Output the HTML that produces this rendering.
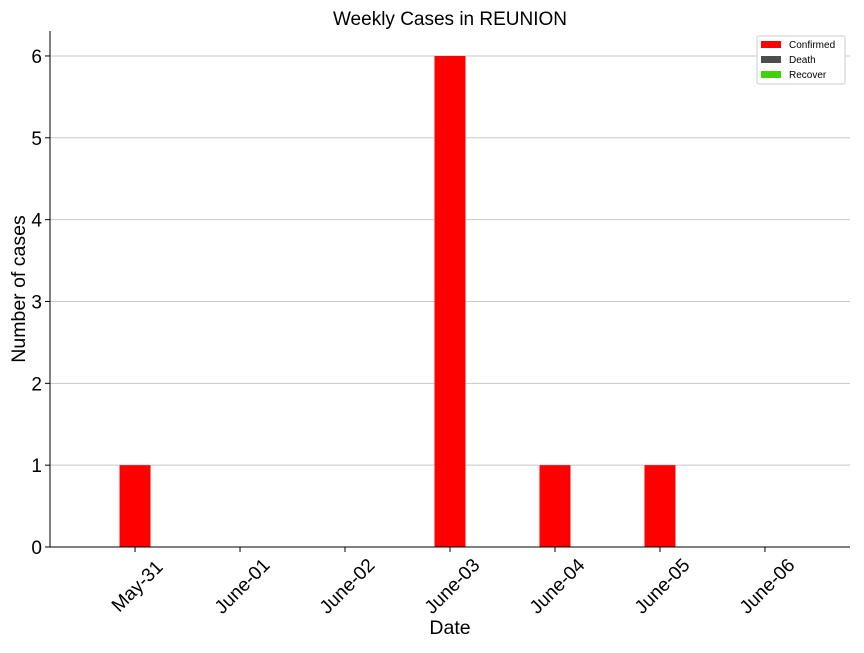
<!DOCTYPE html>
<html><head><meta charset="utf-8"><style>
body{margin:0;background:#fff}
svg{font-family:"Liberation Sans","DejaVu Sans",sans-serif}
</style></head><body>
<svg id="c" width="864" height="648" xmlns="http://www.w3.org/2000/svg">
<text x="450" y="25" font-size="19" text-anchor="middle">Weekly Cases in REUNION</text>
<g id="grid"></g><g id="bars"></g><g id="axes"></g>
<text x="450" y="634" font-size="19.5" text-anchor="middle">Date</text>
<text transform="translate(25,289) rotate(-90)" font-size="19.5" text-anchor="middle">Number of cases</text>
<g>
<rect x="757" y="36" width="88" height="48" rx="2" fill="#fff" stroke="#ccc"/>
<rect x="761" y="41" width="20" height="7" fill="#ff0000"/>
<text x="789" y="48" font-size="10">Confirmed</text>
<rect x="761" y="56" width="20" height="7" fill="#4d4d4d"/>
<text x="789" y="63" font-size="10">Death</text>
<rect x="761" y="71" width="20" height="7" fill="#3fd20a"/>
<text x="789" y="78" font-size="10">Recover</text>
</g>
</svg>
<script>
const categories=["May-31","June-01","June-02","June-03","June-04","June-05","June-06"];
const confirmed=[1,0,0,6,1,1,0];
const deaths=[0,0,0,0,0,0,0];
const recovered=[0,0,0,0,0,0,0];
const yTicks=[0,1,2,3,4,5,6];
const NS="http://www.w3.org/2000/svg";
const L=50,R=850,T=31,B=547;
const xMin=-0.81,xMax=6.81,yMax=6.305;
const x=i=>L+(i-xMin)/(xMax-xMin)*(R-L);
const y=v=>B-v/yMax*(B-T);
function mk(t,a,p){const e=document.createElementNS(NS,t);for(const k in a)e.setAttribute(k,a[k]);p.appendChild(e);return e;}
const grid=document.getElementById('grid'),bars=document.getElementById('bars'),axes=document.getElementById('axes');
yTicks.forEach(v=>{
 const g=mk('line',{x1:L,x2:R,y1:y(v),y2:y(v),stroke:'#c8c8c8','stroke-width':1},grid);
 
 
 mk('line',{x1:L-5,x2:L,y1:y(v),y2:y(v),stroke:'#000'},axes);
 const t=mk('text',{x:L-8,y:y(v)+7,'font-size':19,'text-anchor':'end'},axes);t.textContent=v;
 
 
});
const bw=31;
categories.forEach((c,i)=>{
 const cx=x(i);
 const b=mk('rect',{x:cx-bw/2,y:y(confirmed[i]),width:bw,height:B-y(confirmed[i]),fill:'#ff0000'},bars);
 
 
 const d=mk('rect',{x:cx+bw/2,y:y(deaths[i]),width:bw,height:B-y(deaths[i]),fill:'#4d4d4d'},bars);
 
 
 const r=mk('rect',{x:cx+bw*1.5,y:y(recovered[i]),width:bw,height:B-y(recovered[i]),fill:'#3fd20a'},bars);
 
 
 mk('line',{x1:cx,x2:cx,y1:B,y2:B+5,stroke:'#000'},axes);
 const t=mk('text',{transform:`translate(${cx+3},${B+40}) rotate(-45)`,'font-size':19,'text-anchor':'middle','dominant-baseline':'middle'},axes);t.textContent=c;
 
 
});
const ax=mk('path',{d:`M${L} ${T}V${B}H${R}`,fill:'none',stroke:'#000','stroke-width':1},axes);


</script>
</body></html>
